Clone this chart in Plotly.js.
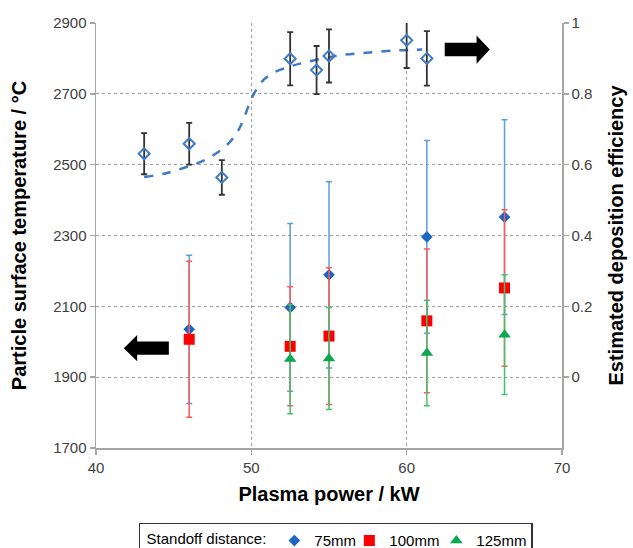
<!DOCTYPE html>
<html>
<head>
<meta charset="utf-8">
<script src="https://cdn.plot.ly/plotly-3.0.1.min.js"></script>
<style>html,body{margin:0;padding:0;background:#fff;}#chart{width:633px;height:548px;}</style>
</head>
<body>
<div id="chart"></div>
<script>
// Particle surface temperature (left axis) by standoff distance
var powerX = [46.0, 52.5, 55.0, 61.3, 66.3];
var temp75 = [2035, 2097, 2189, 2296, 2352];
var err75 = [209, 237, 263, 272, 275];
var powerX100 = [46.0, 52.5, 55.0, 61.3, 66.3];
var temp100 = [2007, 1987, 2016, 2059, 2152];
var err100 = [220, 168, 193, 203, 221];
var powerX125 = [52.5, 55.0, 61.3, 66.3];
var temp125 = [1951, 1953, 1968, 2020];
var err125 = [154, 144, 149, 169];

// Estimated deposition efficiency (right axis)
var effX = [43.1, 46.0, 48.1, 52.5, 54.2, 55.0, 60.0, 61.3];
var effY = [0.631, 0.659, 0.564, 0.899, 0.867, 0.907, 0.951, 0.900];
var effErr = [0.058, 0.059, 0.049, 0.075, 0.068, 0.075, 0.078, 0.077];

// Fitted trend (dashed)
var fitX = [43.1, 44.5, 46.0, 47.0, 48.0, 48.7, 49.2, 49.6, 50.0, 50.4, 50.8, 51.3, 51.8, 52.6, 53.5, 55.6, 57.6, 59.5, 61.0];
var fitY = [0.565, 0.576, 0.596, 0.613, 0.640, 0.668, 0.700, 0.740, 0.786, 0.817, 0.840, 0.856, 0.867, 0.879, 0.889, 0.908, 0.917, 0.923, 0.925];

var legendNames = ['75mm', '100mm', '125mm'];
var xTicks = [40, 50, 60, 70];
var yTicks = [1700, 1900, 2100, 2300, 2500, 2700, 2900];
var y2Ticks = [0, 0.2, 0.4, 0.6, 0.8, 1];
var y2TickText = ['0', '0.2', '0.4', '0.6', '0.8', '1'];

var traces = [
  {
    x: powerX, y: temp75, name: legendNames[0], type: 'scatter', mode: 'markers', legendwidth: 30,
    marker: {symbol: 'diamond', size: 9, color: '#1a66c2'},
    error_y: {type: 'data', array: err75, visible: true, color: '#5a9ee0', thickness: 1.5, width: 3}
  },
  {
    x: powerX100, y: temp100, name: legendNames[1], type: 'scatter', mode: 'markers', legendwidth: 42,
    marker: {symbol: 'square', size: 11, color: '#ff0000'},
    error_y: {type: 'data', array: err100, visible: true, color: '#ff5a5a', thickness: 1.5, width: 3}
  },
  {
    x: powerX125, y: temp125, name: legendNames[2], type: 'scatter', mode: 'markers', legendwidth: 50,
    marker: {symbol: 'triangle-up', size: 11, color: '#0aa84f'},
    error_y: {type: 'data', array: err125, visible: true, color: '#45c06c', thickness: 1.5, width: 3}
  },
  {
    x: fitX, y: fitY, yaxis: 'y2', type: 'scatter', mode: 'lines', showlegend: false,
    line: {color: '#3f78c5', width: 2.5, dash: 'dash', shape: 'spline'}
  },
  {
    x: effX, y: effY, yaxis: 'y2', type: 'scatter', mode: 'markers', showlegend: false,
    marker: {symbol: 'diamond-open', size: 8.5, color: '#3f7cc8', line: {width: 2, color: '#3f7cc8'}},
    error_y: {type: 'data', array: effErr, visible: true, color: '#333333', thickness: 1.8, width: 3}
  }
];

var axisGray = '#a6a6a6';
var tickFont = {family: 'Liberation Sans, Arial, sans-serif', size: 15, color: '#404040'};
var titleFont = {family: 'Liberation Sans, Arial, sans-serif', size: 20, color: '#000', weight: 'bold'};
var legendFont = {family: 'Liberation Sans, Arial, sans-serif', size: 15, color: '#000'};

var layout = {
  width: 633, height: 548,
  margin: {l: 96, r: 71, t: 23, b: 100, pad: 0, autoexpand: false},
  paper_bgcolor: '#fff', plot_bgcolor: '#fff',
  showlegend: true,
  xaxis: {
    range: [40, 70], tickvals: xTicks, showline: true, linecolor: axisGray, linewidth: 1.5,
    ticks: 'outside', ticklen: 5, tickcolor: axisGray, tickwidth: 1.5,
    showgrid: true, gridcolor: '#a0a0a0', gridwidth: 1.2, griddash: 'dot', zeroline: false,
    tickfont: tickFont,
    title: {text: 'Plasma power / kW', font: titleFont, standoff: 12}
  },
  yaxis: {
    range: [1700, 2900], tickvals: yTicks, showline: true, linecolor: axisGray, linewidth: 1.5,
    ticks: 'outside', ticklen: 5, tickcolor: axisGray, tickwidth: 1.5,
    showgrid: true, gridcolor: '#a0a0a0', gridwidth: 1.2, griddash: 'dot', zeroline: false,
    tickfont: tickFont,
    title: {text: 'Particle surface temperature / °C', font: titleFont, standoff: 21}
  },
  yaxis2: {
    overlaying: 'y', side: 'right', range: [-0.2, 1.0],
    tickvals: y2Ticks, ticktext: y2TickText,
    showline: true, linecolor: axisGray, linewidth: 1.5,
    ticks: 'outside', ticklen: 5, tickcolor: axisGray, tickwidth: 1.5,
    showgrid: false, zeroline: false, tickfont: tickFont,
    title: {text: 'Estimated deposition efficiency', font: titleFont, standoff: 17}
  },
  legend: {
    orientation: 'h', x: 0.092, y: -0.176, xanchor: 'left', yanchor: 'top',
    bgcolor: '#fff', bordercolor: '#333', borderwidth: 1.5,
    font: legendFont,
    title: {text: ' Standoff distance:', side: 'left', font: legendFont},
    itemwidth: 30, tracegroupgap: 0
  },
  shapes: [
    {type: 'path', xref: 'x', yref: 'y', fillcolor: '#000', line: {width: 0},
     path: 'M 62.45 2806 L 64.5 2806 L 64.5 2785 L 65.35 2825 L 64.5 2865 L 64.5 2844 L 62.45 2844 Z'},
    {type: 'path', xref: 'x', yref: 'y', fillcolor: '#000', line: {width: 0},
     path: 'M 44.69 1963 L 42.65 1963 L 42.65 1945 L 41.79 1982 L 42.65 2019 L 42.65 2001 L 44.69 2001 Z'}
  ]
};

Plotly.newPlot('chart', traces, layout, {displayModeBar: false, staticPlot: true});
</script>
</body>
</html>
